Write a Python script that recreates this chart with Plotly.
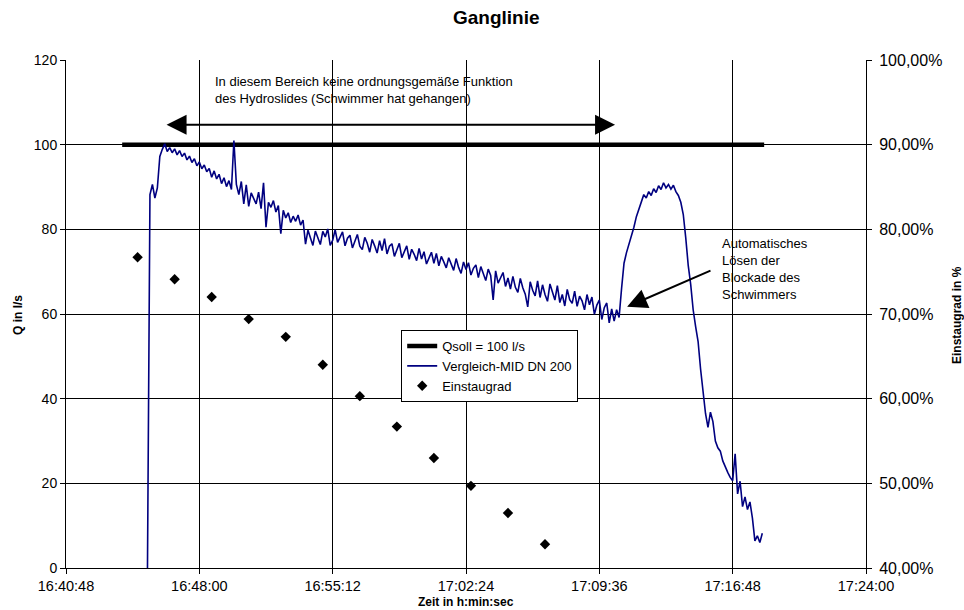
import pandas as pd
import plotly.graph_objects as go

DAY = "2024-01-01 "

# Qsoll line
qsoll_times = ["16:43:50", "17:18:30"]
qsoll_values = [100, 100]

# Vergleich-MID DN 200 (8 s sampling, start time below)
mid_start = "16:45:12"
mid_step_s = 8
mid_values = [
    0, 88.2, 90.6, 87.4, 89.8, 97.2, 98.9, 100.2, 98.4, 99.3,
    98.1, 99.0, 97.6, 98.6, 97.2, 98.0, 96.4, 97.3, 95.8, 96.7,
    95.0, 95.9, 94.3, 95.2, 93.6, 94.4, 92.3, 93.8, 91.9, 93.0,
    90.8, 92.2, 90.1, 91.5, 89.4, 101.0, 90.6, 88.2, 91.3, 86.0,
    90.5, 85.4, 88.6, 87.1, 86.0, 88.8, 84.9, 91.0, 80.5, 86.4,
    85.2, 86.8, 84.1, 85.6, 79.0, 84.5, 82.7, 83.9, 81.6, 83.1,
    81.9, 83.4, 81.0, 82.2, 76.5, 79.8, 77.9, 76.2, 79.6, 78.1,
    76.4, 79.5, 78.2, 80.1, 76.2, 77.4, 79.9, 76.9, 78.3, 79.4,
    76.1, 77.9, 78.6, 75.6, 77.2, 78.8, 76.0, 75.2, 78.1, 76.7,
    74.6, 77.6, 76.1, 74.4, 77.3, 75.0, 77.8, 74.2, 76.0, 76.6,
    73.6, 75.2, 76.7, 73.3, 74.8, 76.1, 72.9, 75.3, 74.1, 72.6,
    75.5, 73.0, 74.7, 71.8, 73.2, 74.6, 72.0, 74.3, 71.4, 73.6,
    72.3, 70.9, 73.3, 71.6, 70.3, 73.1, 71.0, 69.6, 72.3, 70.5,
    72.1, 69.2, 70.8, 71.6, 68.6, 71.2, 69.3, 67.9, 70.6, 69.1,
    63.3, 70.2, 67.3, 68.6, 69.8, 66.5, 68.5, 65.9, 68.9, 66.3,
    65.1, 68.4, 66.2, 64.7, 61.7, 67.6, 65.6, 64.3, 67.8, 63.9,
    66.9, 64.6, 63.0, 67.1, 65.0, 63.3, 66.7, 62.7, 64.6, 61.9,
    65.8, 63.4, 62.5, 65.4, 61.8, 64.2, 63.1, 61.0, 64.6, 62.2,
    64.0, 59.9, 62.1, 63.3, 58.7, 61.5, 62.6, 57.9, 61.2, 58.3,
    61.0, 59.2, 66.0, 72.0, 74.5, 76.5, 78.0, 80.5, 83.0, 84.8,
    86.5, 88.2, 87.4, 88.9, 88.0, 89.6, 88.7, 90.3, 89.4, 91.0,
    89.8, 90.6, 89.5, 90.4, 88.9, 88.0, 86.4, 83.5, 78.0, 71.5,
    67.0, 61.0, 57.0, 53.5, 47.0, 42.0, 36.5, 33.2, 36.8, 34.6,
    30.0, 28.4, 27.6, 25.3, 23.8, 22.6, 21.4, 20.6, 27.0, 17.5,
    20.5, 14.5, 16.8, 13.8, 15.6, 11.8, 6.4, 7.6, 6.0, 8.2,
]

# Einstaugrad (%)
einstau_times = ["16:44:40", "16:46:40", "16:48:40", "16:50:40", "16:52:40", "16:54:40",
                 "16:56:40", "16:58:40", "17:00:40", "17:02:40", "17:04:40", "17:06:40"]
einstau_values = [76.7, 74.1, 72.0, 69.4, 67.3, 64.0, 60.3, 56.7, 53.0, 49.7, 46.5, 42.8]

# axis ticks
y2_ticks = [40, 50, 60, 70, 80, 90, 100]
y2_ticktext = ["40,00%", "50,00%", "60,00%", "70,00%", "80,00%", "90,00%", "100,00%"]
x_range = ["16:40:48", "17:24:00"]

mid_times = pd.date_range(DAY + mid_start, periods=len(mid_values), freq=f"{mid_step_s}s")

FONT = "Liberation Sans, Arial, sans-serif"

fig = go.Figure()
fig.add_trace(go.Scatter(
    x=[DAY + t for t in qsoll_times], y=qsoll_values, mode="lines",
    name="Qsoll = 100 l/s", line=dict(color="black", width=4.5)))
fig.add_trace(go.Scatter(
    x=mid_times, y=mid_values, mode="lines",
    name="Vergleich-MID DN 200", line=dict(color="#000080", width=1.6)))
fig.add_trace(go.Scatter(
    x=[DAY + t for t in einstau_times], y=einstau_values, mode="markers",
    name="Einstaugrad", yaxis="y2",
    marker=dict(symbol="diamond", color="black", size=8)))

fig.update_layout(
    width=964, height=610,
    margin=dict(l=66, r=98, t=60, b=42),
    paper_bgcolor="white", plot_bgcolor="white",
    font=dict(family=FONT, color="black", size=13),
    showlegend=True,
    legend=dict(x=0.419, y=0.4685, xanchor="left", yanchor="top",
                bordercolor="black", borderwidth=1, bgcolor="white",
                font=dict(size=13), tracegroupgap=0, itemwidth=30),
    xaxis=dict(
        type="date", range=[DAY + x_range[0], DAY + x_range[1]],
        tick0=DAY + x_range[0], dtick=432000, tickformat="%H:%M:%S",
        showgrid=True, gridcolor="black", gridwidth=1,
        showline=True, linecolor="black", linewidth=1,
        ticks="outside", ticklen=5, tickcolor="black",
        tickfont=dict(size=14.5), zeroline=False, automargin=False),
    yaxis=dict(
        range=[0, 120], dtick=20, showgrid=True, gridcolor="black", gridwidth=1,
        showline=True, linecolor="black", linewidth=1,
        ticks="outside", ticklen=5, tickcolor="black",
        tickfont=dict(size=14), zeroline=False, automargin=False),
    yaxis2=dict(
        range=[40, 100], overlaying="y", side="right",
        tickvals=y2_ticks, ticktext=y2_ticktext, showgrid=False,
        showline=True, linecolor="black", linewidth=1,
        ticks="outside", ticklen=5, tickcolor="black", ticklabelstandoff=4,
        tickfont=dict(size=16), zeroline=False, automargin=False),
)

# titles
fig.add_annotation(text="<b>Ganglinie</b>", xref="paper", yref="paper",
                   x=(497 - 66) / 800, y=(568 - 18) / 508, xanchor="center", yanchor="middle",
                   showarrow=False, font=dict(size=19))
fig.add_annotation(text="<b>Zeit in h:min:sec</b>", xref="paper", yref="paper",
                   x=(466 - 66) / 800, y=-(602 - 568) / 508, xanchor="center", yanchor="middle",
                   showarrow=False, font=dict(size=12))
fig.add_annotation(text="<b>Q in l/s</b>", xref="paper", yref="paper",
                   x=-(66 - 18) / 800, y=(568 - 315) / 508, xanchor="center", yanchor="middle",
                   textangle=-90, showarrow=False, font=dict(size=12))
fig.add_annotation(text="<b>Einstaugrad in %</b>", xref="paper", yref="paper",
                   x=(957 - 66) / 800, y=(568 - 315) / 508, xanchor="center", yanchor="middle",
                   textangle=-90, showarrow=False, font=dict(size=12))

# double-headed arrow
fig.add_annotation(x=DAY + "17:10:27", y=104.7, ax=DAY + "16:46:09", ay=104.7,
                   xref="x", yref="y", axref="x", ayref="y", text="",
                   showarrow=True, arrowhead=2, startarrowhead=2, arrowside="end+start",
                   arrowsize=2, startarrowsize=2, arrowwidth=2, arrowcolor="black")
fig.add_annotation(text="In diesem Bereich keine ordnungsgemäße Funktion<br>des Hydroslides (Schwimmer hat gehangen)",
                   xref="paper", yref="paper", x=(213 - 66) / 800, y=(568 - 72) / 508,
                   xanchor="left", yanchor="top", align="left", showarrow=False,
                   font=dict(size=13))

# single arrow
fig.add_annotation(x=DAY + "17:11:06", y=61.7, ax=DAY + "17:15:41", ay=70.4,
                   xref="x", yref="y", axref="x", ayref="y", text="",
                   showarrow=True, arrowhead=2, arrowsize=2, arrowwidth=2, arrowcolor="black")
fig.add_annotation(text="Automatisches<br>Lösen der<br>Blockade des<br>Schwimmers",
                   xref="paper", yref="paper", x=(720 - 66) / 800, y=(568 - 234) / 508,
                   xanchor="left", yanchor="top", align="left", showarrow=False,
                   font=dict(size=13))

fig.write_html("out.html", config={"displayModeBar": False},
               post_script="document.body.style.margin='0';")
